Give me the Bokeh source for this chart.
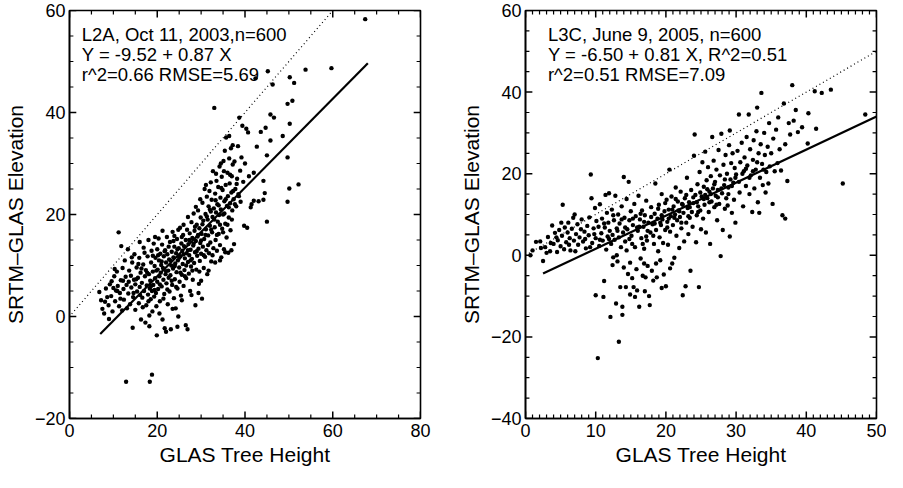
from bokeh.plotting import figure
from bokeh.layouts import row
from bokeh.models import Range1d, FixedTicker, Label, ColumnDataSource, CustomJSTickFormatter
from bokeh.embed import file_html
from bokeh.resources import INLINE

FONT = "Liberation Sans"

# ---------------- data: (GLAS tree height, SRTM-GLAS elevation) ----------------
l2a_pairs = [
    (6.8, 4.8), (7.2, 3.2), (7.5, 1.5), (7.9, 0.6), (8.3, 5.5), (8.6, 3.8), (8.9, 2.2), (9.2, 6.3), (9.5, 4.0), (9.0, -0.5),
    (9.8, 1.0), (10.0, 5.6), (10.2, 7.9), (10.4, 3.0), (10.6, 5.1), (10.8, 8.8), (11.0, 6.0), (11.2, 16.5), (11.3, 2.0), (11.5, 4.6),
    (11.7, 7.1), (11.8, 13.8), (12.0, 1.2), (12.1, 9.5), (12.3, 5.4), (12.4, 3.3),
    (12.6, 11.0), (12.8, 7.8), (13.0, 6.2), (13.1, 1.6), (13.3, 13.2), (13.4, 4.5), (13.6, 9.0), (13.8, 2.4), (14.0, 8.0), (14.1, 5.7),
    (14.3, 10.6), (14.4, -2.2), (14.5, 3.8), (14.7, 7.2), (14.8, 12.2), (15.0, 6.3), (15.0, 1.3), (12.9, -12.8),
    (15.3, 9.6), (15.4, 4.9), (15.6, 7.6), (15.8, 2.6), (15.9, 11.5), (16.0, 5.8), (16.2, 8.6), (16.3, -0.6), (16.5, 6.6), (16.6, 3.7),
    (16.8, 10.2), (16.9, 13.5), (17.0, 5.0), (17.2, 7.9), (17.3, -1.2), (17.4, 9.1), (17.5, 2.2), (17.6, 6.1), (17.8, 11.8), (17.9, 4.3),
    (18.0, 15.0), (18.1, 8.3), (18.2, 0.2), (18.3, 5.5), (18.3, -12.8), (18.8, -11.4),
    (18.4, 7.0), (18.5, 3.4), (18.6, 10.6), (18.7, 12.9), (18.8, 5.0), (18.9, 1.0), (19.0, 8.8), (19.1, 6.2), (19.2, 14.3), (19.3, 3.9),
    (19.4, 9.9), (19.5, 7.5), (19.6, 11.5), (19.7, 4.6), (19.8, 2.0), (19.9, -3.7), (20.0, 6.8), (20.0, 13.2), (20.1, 9.2), (20.2, 5.4),
    (20.3, 15.3), (20.4, 11.0), (20.5, 7.9), (20.6, 3.0), (20.7, 12.3), (20.8, 8.6), (20.9, 10.1),
    (21.0, 5.9), (21.1, 14.1), (21.2, -0.6), (21.3, 9.5), (21.4, 7.2), (21.5, 11.8), (21.6, 4.4), (21.7, -2.3), (21.8, 13.0), (21.9, 8.3),
    (22.0, 10.6), (22.1, 6.5), (22.2, 15.6), (22.3, 12.2), (22.4, 2.4), (22.5, 9.0), (22.6, 7.6), (22.7, 11.2), (22.8, 4.9), (22.9, 14.6),
    (23.0, 8.1), (23.1, -2.5), (23.2, 10.0), (23.3, 12.7), (23.4, 6.2), (23.5, 16.6), (23.6, 9.4), (23.7, 11.6), (23.8, 3.6), (23.9, 13.7),
    (24.0, 7.3), (24.1, 10.4), (24.2, 1.6), (24.3, 12.4), (24.4, 8.7), (24.5, 15.2), (24.6, 5.5), (24.7, 11.0), (24.8, 0.0), (24.9, 13.4),
    (25.0, 9.6), (25.1, 6.8), (25.2, 17.4), (25.3, 11.8), (25.4, 4.1), (25.5, 14.3), (25.6, 8.2), (25.7, 12.9), (25.8, 10.3), (25.9, 16.0),
    (26.0, 6.0), (26.1, 13.8), (26.2, 9.1), (26.3, 11.4), (26.5, -1.7), (26.5, 15.0), (26.6, 7.5), (26.7, 12.4), (26.8, 17.0), (26.9, -2.5), (27.0, 10.7),
    (27.1, 14.2), (27.2, 8.4), (27.3, 12.0), (27.4, 16.3), (27.5, 5.0), (27.6, 13.1), (27.7, 9.8), (27.8, 18.5), (27.9, 11.3), (28.0, 15.4),
    (28.1, 7.2), (28.2, 13.9), (28.3, 20.2), (28.4, 10.5), (28.5, 16.8), (28.6, 12.6), (28.7, 2.2), (28.8, 14.8), (28.9, 9.2), (29.0, 18.0),
    (29.1, 11.9), (29.2, 15.7), (29.3, 20.8), (29.4, 13.3), (29.5, 6.4), (29.6, 17.3), (29.7, 10.9), (29.8, 14.4), (29.9, 19.4), (30.0, 12.3),
    (30.1, 16.2), (30.2, 3.5), (30.3, 22.3), (30.4, 13.7), (30.5, 18.8), (30.6, 9.5), (30.7, 15.2), (30.8, 25.0), (30.9, 11.7), (31.0, 20.1),
    (31.1, 17.1), (31.2, 13.0), (31.3, 23.5), (31.4, 8.3), (31.5, 19.0), (31.6, 15.9), (31.7, 21.6), (31.8, 12.4), (31.9, 24.6), (32.0, 17.8),
    (32.1, 14.5), (32.2, 20.6), (32.3, 10.8), (32.4, 22.9), (32.5, 16.5), (32.6, 19.5), (32.7, 28.5), (32.8, 13.4), (32.9, 21.2), (33.0, 40.9),
    (33.1, 17.5), (33.2, 24.1), (33.3, 15.0), (33.4, 20.4), (33.5, 26.6), (33.6, 12.9), (33.7, 22.0), (33.8, 18.6), (33.9, 25.4), (34.0, 16.2),
    (34.1, 19.9), (34.2, 29.4), (34.3, 14.0), (34.4, 23.3), (34.5, 21.0), (34.6, 11.6), (34.7, 27.4), (34.8, 17.2), (34.9, 24.8), (35.0, 20.0),
    (35.1, 30.5), (35.2, 13.2), (35.3, 22.6), (35.4, 32.5), (35.5, 18.2), (35.6, 25.8), (35.7, 35.1), (35.8, 15.5), (35.9, 21.7), (36.0, 28.2),
    (36.1, 23.6), (36.2, 12.5), (36.3, 19.4), (36.4, 31.0), (36.5, 26.1), (36.6, 22.2), (36.7, 16.9), (36.8, 33.0), (36.9, 24.3), (37.0, 27.5),
    (37.1, 20.8), (37.2, 29.8), (37.4, 23.0), (37.5, 14.2), (37.6, 30.4), (37.8, 25.0), (38.0, 21.6), (38.2, 27.0), (38.4, 33.4), (38.5, 24.0),
    (38.7, 39.0), (38.9, 28.6), (39.0, 22.5), (39.2, 31.2), (39.4, 37.4), (39.6, 26.4),
    (39.8, 17.8), (40.0, 30.0), (40.3, 36.8), (40.5, 17.4), (40.7, 36.1), (40.9, 27.5), (41.3, 21.4), (41.5, 22.0), (42.0, 28.2), (42.0, 22.7),
    (42.4, 46.7), (42.7, 33.3), (43.1, 22.6), (43.6, 36.2), (44.2, 26.6), (44.2, 22.9), (44.7, 37.0), (44.5, 24.2), (45.0, 18.6), (45.2, 48.1), (45.0, 31.6),
    (45.8, 39.6), (45.8, 34.5), (46.3, 45.5), (46.6, 39.0), (48.6, 35.4), (49.7, 41.7), (49.7, 31.2), (49.7, 22.5), (50.1, 25.1), (50.2, 46.9),
    (50.2, 37.8), (50.8, 42.3), (51.2, 45.8), (52.2, 25.9), (53.8, 48.4), (59.7, 48.7), (67.4, 58.3),
    (15.2, 7.3), (15.7, 10.3), (16.1, 4.2), (16.4, 9.4), (16.7, 1.8), (17.1, 12.5), (17.7, 8.6), (18.0, 3.0), (18.6, 6.0), (19.0, 11.9),
    (19.4, 5.2), (19.8, 9.0), (20.2, 12.0), (20.6, 6.3), (21.0, 10.8), (21.4, 3.5), (21.7, 12.8), (22.0, 8.9), (22.3, 5.3), (22.6, 13.7),
    (23.0, 11.0), (23.3, 7.0), (23.7, 14.8), (24.0, 9.9), (24.3, 5.8), (24.6, 13.2), (25.0, 11.5), (25.3, 8.6), (25.6, 15.6), (26.0, 12.2),
    (26.3, 7.9), (26.6, 10.0), (27.0, 13.0), (27.3, 15.0), (27.6, 11.0), (28.0, 9.0), (28.3, 14.3), (28.6, 17.6), (29.0, 12.8), (29.3, 16.0),
    (29.6, 8.8), (30.0, 14.9), (30.3, 18.1), (30.6, 12.0), (31.0, 16.0), (31.3, 19.6), (31.6, 14.0), (32.0, 21.0), (32.3, 17.0), (32.6, 12.0),
    (33.0, 19.0), (33.3, 22.8), (33.6, 16.0), (34.0, 21.8), (34.3, 18.0), (34.6, 25.2), (35.0, 16.5), (35.3, 20.2), (35.6, 23.0), (36.0, 18.0),
    (36.3, 21.4), (36.6, 27.8), (37.0, 19.0), (37.3, 24.6), (37.7, 22.0), (38.1, 26.0), (38.6, 23.6), (13.5, 6.8), (14.2, 11.6), (14.6, 4.6),
    (12.2, 7.0), (11.6, 3.5), (10.9, 5.0), (10.3, 9.3), (9.6, 6.9), (8.1, 2.9), (16.0, 14.6), (19.5, 15.6), (21.2, 16.8), (23.9, 15.8),
    (24.8, 17.0), (26.0, 18.0), (27.0, 19.5), (28.8, 21.5), (29.8, 23.0), (31.1, 25.8), (32.2, 26.3), (33.4, 28.0), (34.5, 30.0), (35.2, 28.5),
    (36.4, 35.4), (37.2, 33.6), (18.2, -1.9), (22.0, -3.0), (24.6, -2.0), (20.5, 0.6), (23.5, 1.5), (25.6, 3.2), (27.8, 4.2), (29.4, 4.6),
    (30.0, 7.0), (31.7, 9.0), (33.2, 10.6), (34.3, 11.0), (35.5, 12.6), (36.9, 13.0),
]

l3c_pairs = [
    (1.0, 1.2), (1.5, 3.3), (2.1, 3.4), (2.5, -1.4), (2.8, 2.0), (3.2, 4.5), (3.5, 1.0), (3.8, 7.3), (4.0, 2.8), (4.2, 5.5),
    (4.5, 0.8), (4.6, 3.7), (4.8, 6.2), (5.0, 2.2), (5.2, 4.8), (5.3, 12.4), (5.5, 1.5), (5.6, 6.8), (5.8, 3.2), (6.0, 5.6),
    (6.1, 8.0), (6.3, 4.2), (6.4, 1.2), (6.6, 6.5), (6.8, 9.2), (6.9, 3.6), (7.0, 10.0), (7.2, 5.2), (7.4, 7.6), (7.5, 2.6),
    (7.7, 4.4), (7.9, 6.4), (8.0, 8.8), (8.2, 3.4), (8.4, 5.8), (8.6, 1.7), (8.8, 7.2), (9.0, 4.9), (9.1, 9.3), (9.3, 19.8),
    (9.4, 14.0), (9.5, 3.0), (9.7, 6.6), (9.9, 11.6), (10.0, 4.2), (10.1, 8.4), (10.0, -9.8),
    (10.3, -25.2), (10.4, 7.0), (10.5, 2.3), (10.6, 12.5), (10.8, 5.4), (10.9, 9.0), (11.0, 3.6), (11.1, -10.2), (11.2, -6.3), (11.3, 6.8),
    (11.4, 14.8), (11.5, 1.4), (11.6, 10.4), (11.7, 4.6), (11.8, 8.0), (11.9, 15.2), (12.0, 6.0), (12.1, -15.1), (12.2, 2.8), (12.3, 11.2),
    (12.4, 5.0), (12.5, -0.5), (12.6, 8.6), (12.7, 3.8), (12.8, 14.6), (12.9, -11.8), (13.0, 6.6), (13.1, -1.5), (13.2, 10.0), (13.3, -21.2),
    (13.3, 4.4), (13.4, 7.8), (13.5, -7.8), (13.6, 2.0), (13.7, 12.0), (13.8, -12.6), (13.8, -14.6), (13.9, 5.6), (14.0, 19.2), (14.0, -3.0),
    (14.1, 9.2), (14.2, 3.4), (14.3, -7.8), (14.4, 13.8), (14.5, 6.4), (14.6, -4.6), (14.7, 18.0), (14.8, 8.6), (14.9, -1.8), (15.0, 10.8),
    (15.1, 4.8), (15.2, -5.6), (15.3, 7.4), (15.4, -7.8), (15.5, 12.6), (15.6, 2.0), (15.7, 9.6), (15.8, -3.4), (15.9, -8.6), (16.0, 6.0),
    (16.1, 14.6), (16.2, -12.6), (16.3, 8.8), (16.4, -0.8), (16.5, 4.2), (16.6, 11.0), (16.7, -5.0), (16.8, 7.0), (16.9, 1.6), (17.0, 9.8),
    (17.1, -5.4), (17.2, 13.4), (17.3, 3.6), (17.4, -2.6), (17.5, 8.0), (17.6, -10.0), (17.7, -12.2), (17.8, 5.6), (17.9, 11.8), (18.0, -3.8),
    (18.1, 7.6), (18.2, -6.2), (18.3, 2.8), (18.4, 10.2), (18.5, 17.6), (18.6, 6.2), (18.7, -5.4), (18.8, 9.0), (18.9, 1.0), (19.0, 12.4),
    (19.1, 4.4), (19.2, -1.2), (19.3, 7.4), (19.4, 15.0), (19.5, 8.8), (19.6, 3.0), (19.7, -4.7), (19.8, 10.8), (19.9, 6.2), (20.0, -7.6),
    (20.1, 13.6), (20.2, 8.2), (20.3, 2.6), (20.4, 11.2), (20.5, 21.0), (20.6, 5.8), (20.7, 9.6), (20.8, 14.4), (20.9, -2.0), (21.0, 7.4),
    (21.1, 12.0), (21.2, -0.6), (21.3, 10.0), (21.4, 16.6), (21.5, 4.8), (21.6, 8.6), (21.7, 13.2), (21.8, 11.0), (21.9, 1.8), (22.0, 9.4),
    (22.1, 15.6), (22.2, 6.6), (22.3, 12.6), (22.4, -9.8), (22.5, 10.4), (22.6, 3.4), (22.7, 14.0), (22.8, -7.6), (22.9, 8.0), (23.0, 19.0),
    (23.1, 11.6), (23.2, 5.2), (23.3, 13.0), (23.4, 9.2), (23.5, -3.8), (23.6, 16.0), (23.7, 10.6), (23.8, 7.0), (23.9, 12.8), (24.0, 24.4),
    (24.1, 29.6), (24.2, 14.8), (24.3, 3.2), (24.4, 9.8), (24.5, 17.4), (24.6, 12.0), (24.7, -7.8), (24.8, 20.4), (24.9, 11.0), (25.0, 6.4),
    (25.1, 14.4), (25.2, 22.8), (25.3, 9.0), (25.4, 16.8), (25.5, 12.4), (25.6, 25.4), (25.7, 5.6), (25.8, 18.4), (25.9, 14.0), (26.0, 21.6),
    (26.1, 10.6), (26.2, 15.6), (26.3, 2.8), (26.4, 19.4), (26.5, 13.2), (26.6, 29.0), (26.7, 16.4), (26.8, 23.2), (26.9, 11.8), (27.0, 18.0),
    (27.1, 14.6), (27.2, 21.0), (27.3, 8.6), (27.4, 16.0), (27.5, 25.8), (27.6, 12.6), (27.7, 19.6), (27.8, -0.2), (27.9, 29.8), (28.0, 15.2),
    (28.1, 6.2), (28.2, 22.2), (28.3, 17.2), (28.4, 11.4), (28.5, 24.6), (28.6, 14.0), (28.7, 20.0), (28.8, 12.2), (28.9, 16.6), (29.0, 27.0),
    (29.1, 4.6), (29.1, 30.6), (29.2, 18.6), (29.3, 22.6), (29.4, 10.4), (29.5, 25.0), (29.6, 17.8), (29.7, 13.6), (29.8, 21.4), (29.9, 8.0),
    (30.0, 19.8), (30.2, 25.6), (30.4, 34.5), (30.5, 15.4), (30.6, 22.8), (30.8, 27.6), (31.0, 12.0), (31.1, 20.6), (31.2, 24.0), (31.4, 17.0),
    (31.5, 29.0), (31.6, 22.0), (31.8, 34.5), (31.9, 15.0), (32.0, 26.0), (32.1, 19.6), (32.3, 10.6), (32.4, 23.4), (32.5, 28.2), (32.6, 16.4),
    (32.8, 21.0), (32.9, 30.4), (33.0, 36.2), (33.1, 13.0), (33.2, 25.0), (33.3, 10.4), (33.4, 19.0), (33.5, 27.2), (33.6, 39.8), (33.7, 22.4),
    (33.8, 17.2), (34.0, 30.0), (34.1, 24.6), (34.2, 15.4), (34.3, 20.4), (34.5, 26.6), (34.6, 17.6), (34.7, 32.4), (34.8, 21.8), (35.0, 25.0),
    (35.2, 12.6), (35.3, 28.6), (35.5, 20.6), (35.7, 30.8), (35.9, 22.6), (36.0, 33.8), (36.2, 26.0), (36.4, 20.8), (36.6, 9.8), (36.8, 37.2),
    (37.0, 9.0), (37.0, 27.2), (37.3, 18.2), (37.5, 32.4), (37.7, 29.6), (38.0, 41.7), (38.2, 33.0), (38.5, 35.6), (38.8, 30.2), (39.4, 31.4),
    (40.2, 27.4), (40.3, 34.8), (41.2, 40.2), (41.4, 31.0), (42.2, 39.8), (43.5, 40.6), (45.2, 17.6), (48.4, 34.5),
    (8.5, 4.0), (9.2, 2.0), (9.8, 5.2), (10.6, 3.8), (11.2, 7.8), (11.9, 4.0), (12.5, 9.8), (13.1, 6.0), (13.7, 8.8), (14.2, 6.8),
    (14.8, 4.0), (15.3, 9.0), (15.9, 6.8), (16.4, 10.2), (16.9, 8.2), (17.4, 6.0), (17.9, 9.4), (18.4, 7.8), (18.9, 11.4), (19.4, 9.8),
    (19.9, 12.8), (20.4, 9.0), (20.9, 11.2), (21.4, 13.8), (21.9, 10.8), (22.4, 12.4), (22.9, 14.8), (23.4, 11.8), (23.9, 14.2), (24.4, 13.0),
    (24.9, 15.4), (25.4, 13.8), (25.9, 16.2), (26.4, 15.0), (26.9, 17.4), (27.4, 14.2), (27.9, 16.4), (28.4, 18.6), (28.9, 15.0), (29.4, 17.0),
    (29.9, 19.0), (30.4, 18.0), (30.9, 20.0), (31.4, 21.2), (31.9, 19.0), (32.4, 20.6), (33.0, 22.8), (33.9, 21.0), (26.2, 13.0), (25.6, 14.8),
    (27.2, 12.4), (24.6, 10.6), (23.2, 9.6), (22.2, 8.0), (21.2, 9.2), (20.2, 6.8), (19.2, 8.0), (18.2, 4.8), (17.2, 4.6), (16.2, 7.0),
    (15.2, 2.8), (14.4, 1.2), (16.7, 2.8), (18.6, -2.0), (17.0, -8.8), (15.6, -10.2), (16.9, -2.0), (19.4, -8.0), (20.6, -3.2), (13.0, 0.0),
    (12.4, -2.4), (14.9, -9.6), (6.2, 2.6), (7.1, 1.0), (3.0, 0.6), (4.4, 4.4), (5.1, 8.0), (2.2, 1.8), (3.6, 3.0), (0.7, 0.0),
]

# regression fits as printed on the chart, and the extent of each fitted line
l2a_fit = {"intercept": -9.52, "slope": 0.87, "x": [7.0, 68.0]}
l3c_fit = {"intercept": -6.50, "slope": 0.81, "x": [2.5, 50.0]}
l2a_one_to_one = [0.5, 60.0]
l3c_one_to_one = [0.0, 50.0]

l2a_lines = ["L2A, Oct 11, 2003,n=600", "Y = -9.52 + 0.87 X", "r^2=0.66 RMSE=5.69"]
l3c_lines = ["L3C, June 9, 2005, n=600", "Y = -6.50 + 0.81 X, R^2=0.51", "r^2=0.51 RMSE=7.09"]

l2a_xrange, l2a_yrange = (0, 80), (-20, 60)
l3c_xrange, l3c_yrange = (0, 50), (-40, 60)
l2a_xticks, l2a_yticks = [0, 20, 40, 60, 80], [-20, 0, 20, 40, 60]
l3c_xticks, l3c_yticks = [0, 10, 20, 30, 40, 50], [-40, -20, 0, 20, 40, 60]
l2a_xminor, l2a_yminor = list(range(0, 81, 5)), list(range(-20, 61, 5))
l3c_xminor, l3c_yminor = list(range(0, 51, 1)), list(range(-40, 61, 5))

MINUS_FMT = "return tick < 0 ? '\\u2212' + Math.abs(tick) : String(tick);"
HEIGHT, TOP, BOTTOM = 472, 10, 54
MAJOR_LEN, MINOR_LEN = 7, 4


def style_axis(ax):
    ax.major_tick_in = 0
    ax.major_tick_out = 0
    ax.minor_tick_in = 0
    ax.minor_tick_out = 0
    ax.axis_line_color = "black"
    ax.axis_line_width = 1.6
    ax.formatter = CustomJSTickFormatter(code=MINUS_FMT)
    ax.major_label_text_font = FONT
    ax.major_label_text_font_size = "18px"
    ax.major_label_text_color = "black"
    ax.axis_label_text_font = FONT
    ax.axis_label_text_font_size = "21px"
    ax.axis_label_text_font_style = "normal"
    ax.axis_label_text_color = "black"


def add_frame_ticks(p, xr, yr, xt, yt, xm, ym, fw, fh):
    """Inward ticks on all four frame sides, built from the tick lists."""
    ux = (xr[1] - xr[0]) / fw
    uy = (yr[1] - yr[0]) / fh
    for ticks, length, lw in ((xt, MAJOR_LEN, 1.5), ([v for v in xm if v not in xt], MINOR_LEN, 1.2)):
        x0, y0, x1, y1 = [], [], [], []
        for v in ticks:
            x0 += [v, v]
            x1 += [v, v]
            y0 += [yr[0], yr[1]]
            y1 += [yr[0] + length * uy, yr[1] - length * uy]
        p.segment(x0, y0, x1, y1, line_color="black", line_width=lw, line_cap="butt")
    for ticks, length, lw in ((yt, MAJOR_LEN, 1.5), ([v for v in ym if v not in yt], MINOR_LEN, 1.2)):
        x0, y0, x1, y1 = [], [], [], []
        for v in ticks:
            y0 += [v, v]
            y1 += [v, v]
            x0 += [xr[0], xr[1]]
            x1 += [xr[0] + length * ux, xr[1] - length * ux]
        p.segment(x0, y0, x1, y1, line_color="black", line_width=lw, line_cap="butt")


def make_panel(pairs, fit, one2one, lines, xr, yr, xt, yt, xm, ym, text_x, text_ys,
               width, border_left, border_right):
    p = figure(width=width, height=HEIGHT, output_backend="svg", toolbar_location=None,
               x_range=Range1d(*xr), y_range=Range1d(*yr),
               min_border_left=border_left, min_border_right=border_right,
               min_border_top=TOP, min_border_bottom=BOTTOM,
               x_axis_label="GLAS Tree Height", y_axis_label="SRTM\u2013GLAS Elevation")
    p.xgrid.visible = False
    p.ygrid.visible = False
    p.outline_line_color = "black"
    p.outline_line_width = 1.6
    p.outline_line_alpha = 1.0
    p.background_fill_color = "white"
    p.border_fill_color = "white"

    p.xaxis.ticker = FixedTicker(ticks=xt, minor_ticks=xm)
    p.yaxis.ticker = FixedTicker(ticks=yt, minor_ticks=ym)
    for ax in p.xaxis:
        style_axis(ax)
        ax.major_label_standoff = 5
        ax.axis_label_standoff = 3
    for ax in p.yaxis:
        style_axis(ax)
        ax.major_label_standoff = 4
        ax.axis_label_standoff = 5

    fw = width - border_left - border_right
    fh = HEIGHT - TOP - BOTTOM
    add_frame_ticks(p, xr, yr, xt, yt, xm, ym, fw, fh)

    xs = [a for a, b in pairs]
    ys = [b for a, b in pairs]
    src = ColumnDataSource(data=dict(x=xs, y=ys))
    p.scatter("x", "y", source=src, marker="circle", size=4.4, color="black", line_width=0)

    p.line(one2one, one2one, line_color="black", line_width=1.2, line_dash="1 3")
    fy = [fit["intercept"] + fit["slope"] * v for v in fit["x"]]
    p.line(fit["x"], fy, line_color="black", line_width=2.2)

    for txt, ty in zip(lines, text_ys):
        p.add_layout(Label(x=text_x, y=ty, text=txt, text_font=FONT, text_font_size="18.5px",
                           text_color="black", text_baseline="middle", text_align="left"))
    return p


p1 = make_panel(l2a_pairs, l2a_fit, l2a_one_to_one, l2a_lines, l2a_xrange, l2a_yrange,
                l2a_xticks, l2a_yticks, l2a_xminor, l2a_yminor, 2.8, [55.3, 51.3, 47.5],
                width=456, border_left=59, border_right=36)
p2 = make_panel(l3c_pairs, l3c_fit, l3c_one_to_one, l3c_lines, l3c_xrange, l3c_yrange,
                l3c_xticks, l3c_yticks, l3c_xminor, l3c_yminor, 3.2, [54.0, 49.2, 44.4],
                width=430, border_left=62, border_right=10)

layout = row(p1, p2)
open("out.html", "w").write(file_html(layout, INLINE))
